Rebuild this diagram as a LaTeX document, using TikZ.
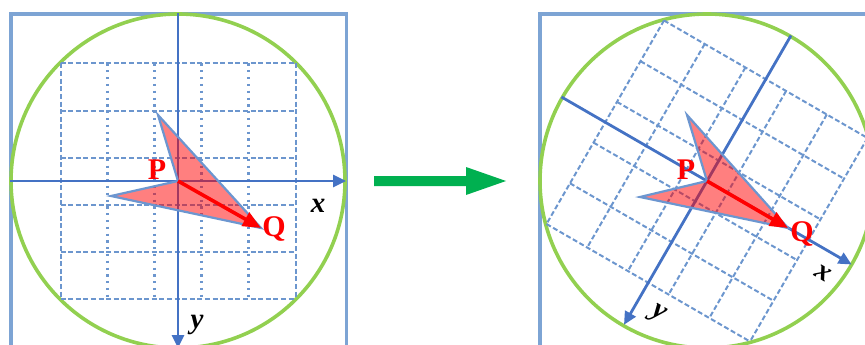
\documentclass[tikz,border=0pt]{standalone}
\usepackage{fontspec}
\setmainfont{Liberation Serif}
\usetikzlibrary{arrows.meta}
\definecolor{frameblue}{RGB}{125,164,212}
\definecolor{ringgreen}{RGB}{146,208,80}
\definecolor{axisblue}{RGB}{68,114,196}
\definecolor{gridblue}{RGB}{108,150,206}
\definecolor{edgeblue}{RGB}{108,150,208}
\definecolor{arrowgreen}{RGB}{0,176,80}
\tikzset{
  frame/.style={draw=frameblue, line width=3.6pt},
  ring/.style={draw=ringgreen, line width=3.6pt},
  gdash/.style={draw=gridblue, line width=2pt, dash pattern=on 5pt off 2.6pt},
  gdot/.style={draw=gridblue, line width=2.2pt, dash pattern=on 2.2pt off 4.6pt},
  axisline/.style={draw=axisblue, line width=2.8pt, -{Triangle[length=13pt,width=12pt]}},
  dartshape/.style={fill=red, fill opacity=0.5, draw=edgeblue, line width=2.2pt, draw opacity=1},
  vec/.style={draw=red, line width=3.6pt, -{Triangle[length=18pt,width=15pt]}},
  ptlabel/.style={text=red, font=\fontsize{30}{30}\selectfont\bfseries, inner sep=0pt},
  axlabel/.style={text=black, font=\fontsize{29}{29}\selectfont\bfseries\itshape, inner sep=0pt}
}
\begin{document}
\begin{tikzpicture}[x=1pt,y=-1pt]
\useasboundingbox (0,0) rectangle (865,345);
\clip (0,0) rectangle (865,345);

% ---------- left panel ----------
\draw[frame] (11,14) rectangle (346.5,380);
\draw[ring] (178,181) circle[radius=167];
\begin{scope}[shift={(178,181)}]
  \foreach \y in {-117.5,-70.5,-23.5,23.5,70.5,117.5}
    \draw[gdash] (-117.5,\y) -- (117.5,\y);
  \foreach \x in {-70.5,-23.5,23.5,70.5}
    \draw[gdot] (\x,-117.5) -- (\x,117.5);
  \draw[gdash] (-117.5,-117.5) -- (-117.5,117.5);
  \draw[gdash] (117.5,-117.5) -- (117.5,117.5);
  \coordinate (LxA) at (-168,0);
  \coordinate (LxB) at (168,0);
  \coordinate (LyA) at (0,-168);
  \coordinate (LyB) at (0,167);
  \draw[axisline] (LxA) -- (LxB);
  \draw[axisline] (LyA) -- (LyB);
  \coordinate (LP) at (0,0);
  \coordinate (LT) at (-20,-66);
  \coordinate (LQ) at (83,47);
  \coordinate (LL) at (-67,15);
  \draw[dartshape] (LP) -- (LT) -- (LQ) -- (LL) -- cycle;
  \draw[vec] (LP) -- (LQ);
\end{scope}
\node[ptlabel] (Plab1) at (157,170) {P};
\node[ptlabel] (Qlab1) at (274,229) {Q};
\node[axlabel] (xlab1) at (318,206) {x};
\node[axlabel] (ylab1) at (197,325) {y};

% ---------- middle arrow ----------
\coordinate (g1) at (374,176);
\coordinate (g2) at (466,176);
\coordinate (g3) at (466,167);
\coordinate (g4) at (506,181);
\coordinate (g5) at (466,195);
\coordinate (g6) at (466,186);
\coordinate (g7) at (374,186);
\fill[arrowgreen] (g1) -- (g2) -- (g3) -- (g4) -- (g5) -- (g6) -- (g7) -- cycle;

% ---------- right panel ----------
\draw[frame] (540,14) rectangle (900,380);
\draw[ring] (707,181) circle[radius=167];
\begin{scope}[shift={(707,181)}, rotate=-30]
  \foreach \y in {-117.5,-70.5,-23.5,23.5,70.5,117.5}
    \draw[gdash] (-117.5,\y) -- (117.5,\y);
  \foreach \x in {-117.5,-70.5,-23.5,23.5,70.5,117.5}
    \draw[gdash] (\x,-117.5) -- (\x,117.5);
  \coordinate (RxA) at (-168,0);
  \coordinate (RxB) at (167,0);
  \coordinate (RyA) at (0,-168);
  \coordinate (RyB) at (0,166);
  \draw[axisline] (RxA) -- (RxB);
  \draw[axisline] (RyA) -- (RyB);
\end{scope}
\begin{scope}[shift={(707,181)}]
  \coordinate (RP) at (0,0);
  \coordinate (RT) at (-20,-66);
  \coordinate (RQ) at (81,47);
  \coordinate (RL) at (-67,16);
  \draw[dartshape] (RP) -- (RT) -- (RQ) -- (RL) -- cycle;
  \draw[vec] (RP) -- (RQ);
\end{scope}
\node[ptlabel] (Plab2) at (686,170) {P};
\node[ptlabel] (Qlab2) at (802,234) {Q};
\node[axlabel, rotate=-30] (xlab2) at (823,273) {x};
\node[axlabel, rotate=-30] (ylab2) at (658,315) {y};
\end{tikzpicture}
\end{document}
